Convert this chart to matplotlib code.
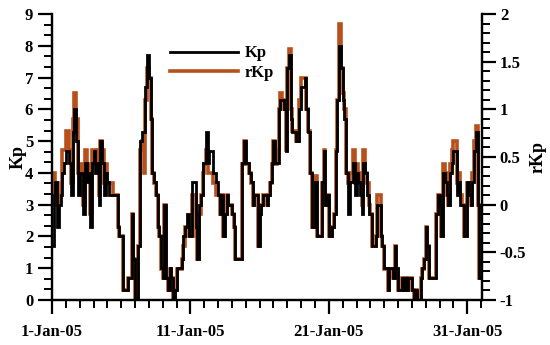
import numpy as np
import matplotlib
matplotlib.use("Agg")
import matplotlib.pyplot as plt
from matplotlib.ticker import FixedLocator, MultipleLocator
from matplotlib.lines import Line2D

# 3-hourly Kp, January 2005 (8 values per day)
kp = [
    1.7, 3.3, 3.7, 2.3, 3.0, 3.3, 4.0, 4.3,   # 1 Jan
    4.7, 4.7, 4.3, 3.3, 5.3, 6.0, 5.0, 3.3,
    4.0, 4.0, 2.7, 4.3, 3.7, 4.0, 2.3, 4.3,
    4.7, 4.0, 4.3, 3.0, 5.0, 4.3, 3.3, 4.0,
    3.7, 3.3, 3.3, 3.3, 3.3, 3.3, 2.3, 2.0,
    2.0, 0.3, 0.3, 0.3, 0.7, 0.7, 2.7, 1.3,
    0.0, 0.0, 1.7, 5.0, 5.3, 5.3, 6.7, 7.7,
    7.0, 5.7, 4.0, 3.7, 3.3, 2.3, 2.0, 1.0,
    0.7, 3.0, 0.7, 0.3, 1.0, 0.7, 0.0, 0.3,
    1.0, 1.0, 1.0, 1.3, 2.0, 2.3, 2.7, 2.0,
    2.0, 3.7, 3.7, 2.3, 1.3, 3.0, 3.3, 4.3,   # 11 Jan
    4.3, 5.3, 4.3, 4.7, 4.7, 4.0, 4.0, 3.7,
    3.3, 2.7, 3.3, 2.0, 2.7, 3.3, 3.0, 3.0,
    2.7, 2.3, 1.3, 1.3, 1.3, 1.3, 4.3, 5.0,
    4.3, 4.3, 4.0, 3.7, 3.0, 3.3, 3.3, 1.7,
    2.7, 3.0, 3.3, 3.3, 3.0, 3.3, 3.7, 4.3,
    5.0, 4.3, 4.3, 6.0, 6.3, 6.3, 6.0, 4.7,
    7.3, 7.7, 5.7, 5.3, 5.3, 5.0, 5.0, 6.0,
    6.7, 6.7, 7.0, 6.0, 5.3, 4.0, 2.3, 2.3,
    3.7, 2.0, 2.0, 2.0, 3.7, 4.7, 3.0, 3.3,
    2.0, 2.0, 2.3, 2.7, 4.7, 6.3, 8.0, 7.3,   # 21 Jan
    6.3, 5.7, 4.0, 2.7, 3.7, 3.7, 4.3, 3.3,
    4.0, 3.7, 3.3, 2.7, 4.3, 4.0, 3.3, 2.7,
    2.7, 1.7, 1.7, 2.0, 3.0, 3.0, 2.0, 1.7,
    1.0, 1.0, 0.3, 1.0, 1.0, 0.7, 1.7, 1.0,
    0.3, 0.3, 0.7, 0.3, 0.7, 0.3, 0.7, 0.7,
    0.3, 0.0, 0.3, 0.0, 0.0, 0.7, 1.0, 1.3,
    2.3, 1.7, 0.7, 0.7, 0.7, 0.7, 2.7, 3.3,
    3.0, 2.0, 4.0, 3.7, 3.3, 3.0, 4.0, 4.3,
    4.7, 4.7, 3.3, 3.7, 3.0, 3.0, 2.0, 2.0,
    3.7, 3.3, 3.0, 3.7, 4.7, 5.3, 3.0, 0.7,   # 31 Jan
]

# rKp on the right axis
rkp = [
    0.10, 0.33, 0.23, 0.00, 0.10, 0.23, 0.57, 0.57,
    0.77, 0.77, 0.57, 0.23, 0.90, 1.17, 0.90, 0.33,
    0.43, 0.43, 0.00, 0.57, 0.33, 0.43, -0.10, 0.57,
    0.57, 0.43, 0.57, 0.10, 0.67, 0.57, 0.23, 0.43,
    0.23, 0.23, 0.23, 0.10, 0.10, 0.10, -0.23, -0.33,
    -0.33, -0.90, -0.90, -0.90, -0.77, -0.77, -0.10, -0.57,
    -1.00, -1.00, -0.43, 0.57, 0.67, 0.33, 1.10, 1.43,
    1.33, 0.90, 0.33, 0.23, 0.10, -0.23, -0.33, -0.67,
    -0.77, 0.00, -0.77, -0.90, -0.67, -0.77, -1.00, -0.90,
    -0.67, -0.67, -0.67, -0.57, -0.43, -0.23, -0.23, -0.33,
    -0.33, 0.10, 0.10, -0.33, -0.57, -0.10, 0.10, 0.33,
    0.43, 0.57, 0.33, 0.33, 0.33, 0.23, 0.23, 0.10,
    0.10, -0.10, 0.10, -0.33, -0.10, 0.10, 0.00, 0.00,
    -0.10, -0.23, -0.57, -0.57, -0.57, -0.57, 0.43, 0.67,
    0.43, 0.43, 0.33, 0.23, 0.00, 0.10, 0.10, -0.43,
    -0.10, 0.00, 0.10, 0.10, 0.00, 0.10, 0.23, 0.43,
    0.67, 0.43, 0.57, 1.00, 1.17, 1.10, 1.00, 0.57,
    1.43, 1.63, 1.00, 0.77, 0.77, 0.67, 0.67, 1.10,
    1.33, 1.33, 1.33, 1.00, 0.77, 0.33, -0.23, -0.23,
    0.30, -0.33, -0.33, -0.33, 0.23, 0.57, 0.00, 0.10,
    -0.33, -0.33, -0.23, -0.10, 0.57, 1.10, 1.90, 1.43,
    1.17, 1.00, 0.33, 0.23, 0.33, 0.33, 0.57, 0.23,
    0.43, 0.33, 0.23, 0.00, 0.57, 0.33, 0.23, 0.00,
    -0.10, -0.43, -0.43, -0.33, 0.10, 0.10, -0.33, -0.43,
    -0.67, -0.67, -0.90, -0.67, -0.67, -0.77, -0.43, -0.67,
    -0.90, -0.90, -0.77, -0.90, -0.77, -0.90, -0.77, -0.77,
    -0.90, -1.00, -0.90, -1.00, -1.00, -0.77, -0.67, -0.57,
    -0.23, -0.43, -0.77, -0.77, -0.77, -0.77, -0.10, 0.10,
    0.10, -0.33, 0.43, 0.33, 0.10, 0.00, 0.43, 0.57,
    0.67, 0.67, 0.23, 0.33, 0.10, 0.00, -0.33, -0.33,
    0.23, 0.10, 0.00, 0.33, 0.67, 0.83, 0.00, -0.77,
]

tick_days = [0, 10, 20, 30]
tick_labels = ["1-Jan-05", "11-Jan-05", "21-Jan-05", "31-Jan-05"]

plt.rcParams["font.family"] = ["Liberation Serif", "DejaVu Serif"]
plt.rcParams["font.weight"] = "bold"

fig = plt.figure(figsize=(5.5, 3.45), dpi=100)
ax = fig.add_axes([0.0945, 0.1304, 0.7815, 0.829])
ax2 = ax.twinx()

# time edges in days, 3 h steps
edges = np.arange(len(kp) + 1) / 8.0

ax2.stairs(rkp, edges, baseline=None, color="#b8501c", lw=2.6)
ax.stairs(kp, edges, baseline=None, color="black", lw=2.0)

ax.set_zorder(ax2.get_zorder() + 1)
ax.patch.set_visible(False)

ax.set_xlim(0, 31.05)
ax.set_ylim(0, 9)
ax2.set_ylim(-1, 2)

ax.xaxis.set_major_locator(FixedLocator(tick_days))
ax.set_xticklabels(tick_labels)
ax.xaxis.set_minor_locator(MultipleLocator(1))
ax.yaxis.set_major_locator(MultipleLocator(1))
ax.yaxis.set_minor_locator(MultipleLocator(1 / 3))
ax2.yaxis.set_major_locator(FixedLocator([-1, -0.5, 0, 0.5, 1, 1.5, 2]))
ax2.set_yticklabels(["-1", "-0.5", "0", "0.5", "1", "1.5", "2"])
ax2.yaxis.set_minor_locator(MultipleLocator(0.1))

for a in (ax, ax2):
    a.spines["top"].set_visible(False)
    for s in a.spines.values():
        s.set_linewidth(1.6)
    a.tick_params(which="major", length=10, width=1.6, labelsize=12, direction="out")
    a.tick_params(which="minor", length=5.5, width=1.4, direction="out")
ax.tick_params(axis="x", pad=7)
ax2.tick_params(axis="y", pad=3)

ax.set_ylabel("Kp", fontsize=13, fontweight="bold", labelpad=-1)
ax2.set_ylabel("rKp", fontsize=13, fontweight="bold", labelpad=2)

handles = [Line2D([], [], color="black", lw=2.0), Line2D([], [], color="#b8501c", lw=2.6)]
ax.legend(handles, ["Kp", "rKp"], loc="upper left", bbox_to_anchor=(0.274, 0.89),
          frameon=False, handlelength=4.1, fontsize=12, labelspacing=0.2,
          handletextpad=0.4, borderpad=0, borderaxespad=0)

fig.savefig("out.png", dpi=100)
